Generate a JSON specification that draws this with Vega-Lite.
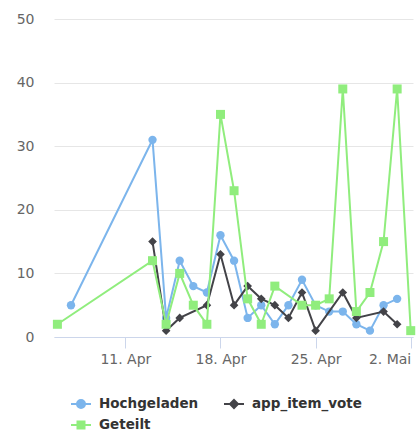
{
  "$schema": "https://vega.github.io/schema/vega-lite/v6.json",
  "width": 359,
  "height": 318,
  "autosize": "none",
  "padding": {"left": 54, "top": 19, "right": 7, "bottom": 97},
  "background": "white",
  "config": {"view": {"stroke": null}, "font": "DejaVu Sans"},
  "data": {"values": [
    {"date": "2021-04-07", "series": "Hochgeladen", "value": 5},
    {"date": "2021-04-13", "series": "Hochgeladen", "value": 31},
    {"date": "2021-04-14", "series": "Hochgeladen", "value": 3},
    {"date": "2021-04-15", "series": "Hochgeladen", "value": 12},
    {"date": "2021-04-16", "series": "Hochgeladen", "value": 8},
    {"date": "2021-04-17", "series": "Hochgeladen", "value": 7},
    {"date": "2021-04-18", "series": "Hochgeladen", "value": 16},
    {"date": "2021-04-19", "series": "Hochgeladen", "value": 12},
    {"date": "2021-04-20", "series": "Hochgeladen", "value": 3},
    {"date": "2021-04-21", "series": "Hochgeladen", "value": 5},
    {"date": "2021-04-22", "series": "Hochgeladen", "value": 2},
    {"date": "2021-04-23", "series": "Hochgeladen", "value": 5},
    {"date": "2021-04-24", "series": "Hochgeladen", "value": 9},
    {"date": "2021-04-25", "series": "Hochgeladen", "value": 5},
    {"date": "2021-04-26", "series": "Hochgeladen", "value": 4},
    {"date": "2021-04-27", "series": "Hochgeladen", "value": 4},
    {"date": "2021-04-28", "series": "Hochgeladen", "value": 2},
    {"date": "2021-04-29", "series": "Hochgeladen", "value": 1},
    {"date": "2021-04-30", "series": "Hochgeladen", "value": 5},
    {"date": "2021-05-01", "series": "Hochgeladen", "value": 6},
    {"date": "2021-04-13", "series": "app_item_vote", "value": 15},
    {"date": "2021-04-14", "series": "app_item_vote", "value": 1},
    {"date": "2021-04-15", "series": "app_item_vote", "value": 3},
    {"date": "2021-04-17", "series": "app_item_vote", "value": 5},
    {"date": "2021-04-18", "series": "app_item_vote", "value": 13},
    {"date": "2021-04-19", "series": "app_item_vote", "value": 5},
    {"date": "2021-04-20", "series": "app_item_vote", "value": 8},
    {"date": "2021-04-21", "series": "app_item_vote", "value": 6},
    {"date": "2021-04-22", "series": "app_item_vote", "value": 5},
    {"date": "2021-04-23", "series": "app_item_vote", "value": 3},
    {"date": "2021-04-24", "series": "app_item_vote", "value": 7},
    {"date": "2021-04-25", "series": "app_item_vote", "value": 1},
    {"date": "2021-04-27", "series": "app_item_vote", "value": 7},
    {"date": "2021-04-28", "series": "app_item_vote", "value": 3},
    {"date": "2021-04-30", "series": "app_item_vote", "value": 4},
    {"date": "2021-05-01", "series": "app_item_vote", "value": 2},
    {"date": "2021-04-06", "series": "Geteilt", "value": 2},
    {"date": "2021-04-13", "series": "Geteilt", "value": 12},
    {"date": "2021-04-14", "series": "Geteilt", "value": 2},
    {"date": "2021-04-15", "series": "Geteilt", "value": 10},
    {"date": "2021-04-16", "series": "Geteilt", "value": 5},
    {"date": "2021-04-17", "series": "Geteilt", "value": 2},
    {"date": "2021-04-18", "series": "Geteilt", "value": 35},
    {"date": "2021-04-19", "series": "Geteilt", "value": 23},
    {"date": "2021-04-20", "series": "Geteilt", "value": 6},
    {"date": "2021-04-21", "series": "Geteilt", "value": 2},
    {"date": "2021-04-22", "series": "Geteilt", "value": 8},
    {"date": "2021-04-24", "series": "Geteilt", "value": 5},
    {"date": "2021-04-25", "series": "Geteilt", "value": 5},
    {"date": "2021-04-26", "series": "Geteilt", "value": 6},
    {"date": "2021-04-27", "series": "Geteilt", "value": 39},
    {"date": "2021-04-28", "series": "Geteilt", "value": 4},
    {"date": "2021-04-29", "series": "Geteilt", "value": 7},
    {"date": "2021-04-30", "series": "Geteilt", "value": 15},
    {"date": "2021-05-01", "series": "Geteilt", "value": 39},
    {"date": "2021-05-02", "series": "Geteilt", "value": 1}
  ]},
  "encoding": {
    "x": {
      "field": "date", "type": "temporal",
      "scale": {"type": "utc", "domain": [
        {"year": 2021, "month": 4, "date": 5, "hours": 18, "utc": true},
        {"year": 2021, "month": 5, "date": 2, "hours": 4, "utc": true}
      ]},
      "axis": {
        "title": null, "grid": false,
        "values": [
          {"year": 2021, "month": 4, "date": 11, "utc": true},
          {"year": 2021, "month": 4, "date": 18, "utc": true},
          {"year": 2021, "month": 4, "date": 25, "utc": true},
          {"year": 2021, "month": 5, "date": 2, "utc": true}
        ],
        "labelExpr": "utcdate(datum.value) + '. ' + ['Jan','Feb','Mär','Apr','Mai','Jun','Jul','Aug','Sep','Okt','Nov','Dez'][utcmonth(datum.value)]",
        "labelAlign": {"condition": {"test": "utcmonth(datum.value) === 4", "value": "right"}, "value": "center"},
        "domainColor": "#ccd6eb", "tickColor": "#ccd6eb", "tickSize": 11,
        "labelPadding": 4, "labelFontSize": 14, "labelColor": "#666666",
        "labelFont": "DejaVu Sans", "labelOverlap": false, "labelBound": false
      }
    },
    "y": {
      "field": "value", "type": "quantitative",
      "scale": {"domain": [0, 50], "nice": false},
      "axis": {
        "title": null, "values": [0, 10, 20, 30, 40, 50],
        "grid": true, "gridColor": "#e6e6e6", "domain": false, "ticks": false, "tickSize": 0,
        "labelPadding": 20, "labelFontSize": 14, "labelColor": "#666666", "labelFont": "DejaVu Sans"
      }
    },
    "color": {
      "field": "series", "type": "nominal",
      "scale": {"domain": ["Hochgeladen", "app_item_vote", "Geteilt"], "range": ["#7cb5ec", "#434348", "#90ed7d"]},
      "legend": {
        "title": null, "orient": "none", "legendX": 16, "legendY": 374,
        "direction": "horizontal", "columns": 2, "columnPadding": 21, "rowPadding": 2,
        "symbolSize": 400, "labelOffset": 7, "padding": 0,
        "labelFont": "DejaVu Sans", "labelFontWeight": "bold", "labelFontSize": 13.5, "labelColor": "#333333",
        "symbolStrokeWidth": 2,
        "encode": {"symbols": {"update": {
          "shape": {"signal": "datum.value === 'Hochgeladen' ? 'M-1,0H1M-0.4,0A0.4,0.4,0,1,0,0.4,0A0.4,0.4,0,1,0,-0.4,0Z' : datum.value === 'app_item_vote' ? 'M-1,0H1M0,-0.4L0.4,0L0,0.4L-0.4,0Z' : 'M-1,0H1M-0.35,-0.35H0.35V0.35H-0.35Z'"},
          "fill": {"scale": "color", "field": "value"},
          "stroke": {"scale": "color", "field": "value"},
          "strokeWidth": {"value": 2},
          "opacity": {"value": 1}
        }}}
      }
    }
  },
  "layer": [
    {"transform": [{"filter": "datum.series === 'Hochgeladen'"}],
     "mark": {"type": "line", "strokeWidth": 2, "point": {"filled": true, "shape": "circle", "size": 70, "opacity": 1}}},
    {"transform": [{"filter": "datum.series === 'app_item_vote'"}],
     "mark": {"type": "line", "strokeWidth": 2, "point": {"filled": true, "shape": "diamond", "size": 75, "opacity": 1}}},
    {"transform": [{"filter": "datum.series === 'Geteilt'"}],
     "mark": {"type": "line", "strokeWidth": 2, "point": {"filled": true, "shape": "square", "size": 81, "opacity": 1}}}
  ]
}
